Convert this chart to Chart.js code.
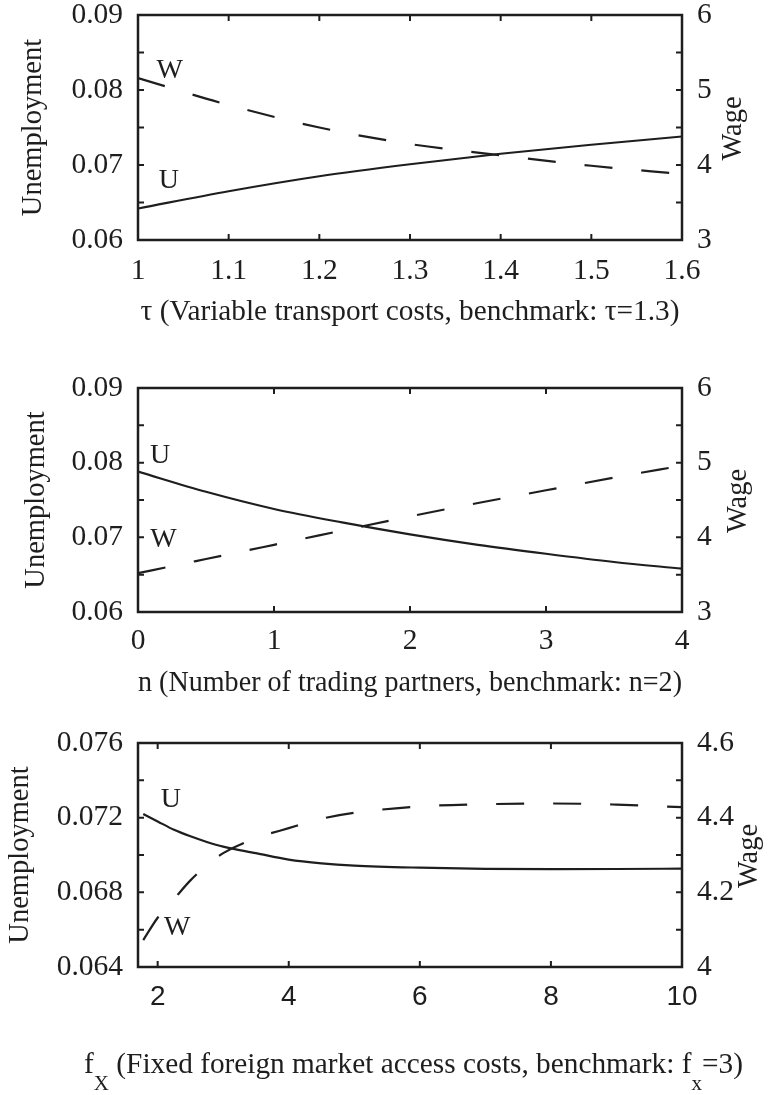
<!DOCTYPE html>
<html><head><meta charset="utf-8">
<script src="https://cdn.jsdelivr.net/npm/chart.js@4.4.1/dist/chart.umd.min.js"></script>
<style>
html,body{margin:0;padding:0;background:#fff;}
#wrap{position:relative;width:783px;height:1095px;}
canvas{position:absolute;left:0;}
</style></head><body>
<div id="wrap">
<canvas id="c1" width="783" height="345" style="top:0px"></canvas>
<canvas id="c2" width="783" height="365" style="top:345px"></canvas>
<canvas id="c3" width="783" height="385" style="top:710px"></canvas>
</div>
<script>
// ---------- data ----------
const tau  = [1.0, 1.1, 1.2, 1.3, 1.4, 1.5, 1.6];
const tauU = [0.0642, 0.0665, 0.0685, 0.0701, 0.0715, 0.0727, 0.0738];
const tauW = [5.16, 4.80, 4.50, 4.28, 4.13, 3.99, 3.88];

const nPartners = [0, 0.5, 1, 1.5, 2, 2.5, 3, 3.5, 4];
const nU = [0.0788, 0.0761, 0.0738, 0.0720, 0.0704, 0.0690, 0.0678, 0.0667, 0.0658];
const nW = [3.52, 3.71, 3.90, 4.09, 4.28, 4.46, 4.63, 4.80, 4.96];

const fx   = [1.78, 2, 2.25, 2.5, 2.75, 3, 3.5, 4, 4.5, 5, 6, 7, 8, 9, 10];
const fxU  = [0.0722, 0.0718, 0.07135, 0.0710, 0.0707, 0.07045, 0.0701, 0.06975, 0.06955, 0.06943, 0.06932, 0.06926, 0.06924, 0.06925, 0.06927];
const fxW  = [4.072, 4.132, 4.182, 4.232, 4.272, 4.305, 4.345, 4.372, 4.397, 4.413, 4.430, 4.436, 4.438, 4.435, 4.428];

// ---------- ticks ----------
const tauTicks = [1, 1.1, 1.2, 1.3, 1.4, 1.5, 1.6];
const tauTickLabels = ['1', '1.1', '1.2', '1.3', '1.4', '1.5', '1.6'];
const nTicks = [0, 1, 2, 3, 4];
const nTickLabels = ['0', '1', '2', '3', '4'];
const fxTicks = [2, 4, 6, 8, 10];
const fxTickLabels = ['2', '4', '6', '8', '10'];

const uTicksA  = [0.06, 0.065, 0.07, 0.075, 0.08, 0.085, 0.09];
const uLabelsA = ['0.06', '', '0.07', '', '0.08', '', '0.09'];
const wTicksA  = [3, 3.5, 4, 4.5, 5, 5.5, 6];
const wLabelsA = ['3', '', '4', '', '5', '', '6'];
const uTicksB  = [0.064, 0.066, 0.068, 0.070, 0.072, 0.074, 0.076];
const uLabelsB = ['0.064', '', '0.068', '', '0.072', '', '0.076'];
const wTicksB  = [4, 4.1, 4.2, 4.3, 4.4, 4.5, 4.6];
const wLabelsB = ['4', '', '4.2', '', '4.4', '', '4.6'];

// ---------- styling ----------
const SERIF = '"Liberation Serif", "Times New Roman", serif';
const SANS = '"Liberation Sans", Arial, sans-serif';
const INK = '#1e1e1e';
Chart.defaults.font.family = SERIF;
Chart.defaults.color = INK;

function toPts(xs, ys) { return xs.map((x, i) => ({x: x, y: ys[i]})); }

const framePlugin = {
  id: 'frame',
  afterDraw(chart) {
    const {ctx, chartArea: a, scales} = chart;
    const L = 6;
    ctx.save();
    ctx.strokeStyle = INK;
    ctx.lineWidth = 2;
    ctx.beginPath();
    scales.x.ticks.forEach(t => {
      const p = scales.x.getPixelForValue(t.value);
      ctx.moveTo(p, a.bottom); ctx.lineTo(p, a.bottom - L);
      ctx.moveTo(p, a.top); ctx.lineTo(p, a.top + L);
    });
    scales.yU.ticks.forEach(t => {
      const p = scales.yU.getPixelForValue(t.value);
      ctx.moveTo(a.left, p); ctx.lineTo(a.left + L, p);
    });
    scales.yW.ticks.forEach(t => {
      const p = scales.yW.getPixelForValue(t.value);
      ctx.moveTo(a.right, p); ctx.lineTo(a.right - L, p);
    });
    ctx.stroke();
    ctx.lineWidth = 2.5;
    ctx.strokeRect(a.left, a.top, a.right - a.left, a.bottom - a.top);
    ctx.restore();
  }
};

const textPlugin = {
  id: 'texts',
  afterDraw(chart, args, opts) {
    const {ctx, chartArea: a, scales} = chart;
    ctx.save();
    ctx.fillStyle = INK;
    ctx.font = '28px ' + SERIF;
    ctx.textAlign = 'center';
    ctx.textBaseline = 'alphabetic';
    (opts.marks || []).forEach(m => {
      ctx.fillText(m.text, scales.x.getPixelForValue(m.x), scales.yU.getPixelForValue(m.y));
    });
    // right axis title, reading bottom-to-top
    ctx.save();
    ctx.font = '28.5px ' + SERIF;
    ctx.translate(opts.wageX, (a.top + a.bottom) / 2 + 1);
    ctx.rotate(-Math.PI / 2);
    ctx.textBaseline = 'middle';
    ctx.fillText(opts.wageText, 0, 0);
    ctx.restore();
    // x title with subscripts
    if (opts.rich) {
      const segs = opts.rich.segments;
      ctx.textAlign = 'left';
      let total = 0;
      segs.forEach(s => {
        ctx.font = (s.sub ? '21px ' : '29.3px ') + SERIF;
        s.w = ctx.measureText(s.text).width;
        total += s.w;
      });
      let x = opts.rich.cx - total / 2;
      segs.forEach(s => {
        ctx.font = (s.sub ? '21px ' : '29.3px ') + SERIF;
        ctx.fillText(s.text, x, opts.rich.y + (s.sub ? 17 : 0));
        x += s.w;
      });
    }
    ctx.restore();
  }
};

function makeChart(id, cfg) {
  const fontTick = {family: SERIF, size: 29.5, lineHeight: 1.2};
  const fontXTitle = {family: SERIF, size: 29.3, lineHeight: 1.2};
  const fontYTitle = {family: SERIF, size: 28.5, lineHeight: 1.2};
  new Chart(document.getElementById(id), {
    type: 'line',
    data: {
      datasets: [
        {data: toPts(cfg.xs, cfg.u), yAxisID: 'yU', borderColor: INK, borderWidth: 2.2,
         pointRadius: 0, fill: false, cubicInterpolationMode: 'monotone'},
        {data: toPts(cfg.xs, cfg.w), yAxisID: 'yW', borderColor: INK, borderWidth: 2.2,
         borderDash: [28, 29], pointRadius: 0, fill: false, cubicInterpolationMode: 'monotone'}
      ]
    },
    options: {
      responsive: false,
      animation: false,
      devicePixelRatio: 1,
      events: [],
      layout: {padding: {top: cfg.padTop, bottom: 0, left: 0, right: 0}},
      plugins: {
        legend: {display: false},
        tooltip: {enabled: false},
        texts: {marks: cfg.marks, wageText: 'Wage', wageX: cfg.wageX, rich: cfg.rich}
      },
      scales: {
        x: {
          type: 'linear', min: cfg.xMin, max: cfg.xMax,
          afterBuildTicks: s => { s.ticks = cfg.xTicks.map(v => ({value: v})); },
          ticks: {callback: (v, i) => cfg.xLabels[i], font: cfg.xFont || fontTick,
                  padding: cfg.xPad, maxRotation: 0, autoSkip: false, color: INK},
          grid: {display: false, drawTicks: false},
          border: {display: false},
          title: cfg.xTitle ? {display: true, text: cfg.xTitle, font: fontXTitle, color: INK,
                               padding: {top: 0, bottom: cfg.xTitlePad}} : {display: false},
          afterFit: s => { s.height = cfg.xHeight; s.paddingLeft = 0; s.paddingRight = 0; }
        },
        yU: {
          type: 'linear', position: 'left', min: cfg.uTicks[0], max: cfg.uTicks[cfg.uTicks.length - 1],
          afterBuildTicks: s => { s.ticks = cfg.uTicks.map(v => ({value: v})); },
          ticks: {callback: (v, i) => cfg.uLabels[i], font: fontTick, padding: 15, autoSkip: false, color: INK},
          grid: {display: false, drawTicks: false},
          border: {display: false},
          title: {display: true, text: 'Unemployment', font: fontYTitle, color: INK,
                  padding: {top: cfg.uTitlePad, bottom: 0}},
          afterFit: s => { s.width = 138; s.paddingTop = 0; s.paddingBottom = 0; }
        },
        yW: {
          type: 'linear', position: 'right', min: cfg.wTicks[0], max: cfg.wTicks[cfg.wTicks.length - 1],
          afterBuildTicks: s => { s.ticks = cfg.wTicks.map(v => ({value: v})); },
          ticks: {callback: (v, i) => cfg.wLabels[i], font: fontTick, padding: 15, autoSkip: false, color: INK},
          grid: {display: false, drawTicks: false},
          border: {display: false},
          afterFit: s => { s.width = 101; s.paddingTop = 0; s.paddingBottom = 0; }
        }
      }
    },
    plugins: [framePlugin, textPlugin]
  });
}

makeChart('c1', {
  xs: tau, u: tauU, w: tauW, xMin: 1, xMax: 1.6,
  xTicks: tauTicks, xLabels: tauTickLabels, xPad: 14, xHeight: 105,
  xTitle: 'τ (Variable transport costs, benchmark: τ=1.3)', xTitlePad: 15.3,
  uTicks: uTicksA, uLabels: uLabelsA, wTicks: wTicksA, wLabels: wLabelsA,
  padTop: 15, uTitlePad: 16.6, wageX: 734,
  marks: [{text: 'W', x: 1.035, y: 0.0816}, {text: 'U', x: 1.034, y: 0.0669}]
});

makeChart('c2', {
  xs: nPartners, u: nU, w: nW, xMin: 0, xMax: 4,
  xTicks: nTicks, xLabels: nTickLabels, xPad: 11.3, xHeight: 98,
  xTitle: 'n (Number of trading partners, benchmark: n=2)', xTitlePad: 9.3,
  uTicks: uTicksA, uLabels: uLabelsA, wTicks: wTicksA, wLabels: wLabelsA,
  padTop: 43, uTitlePad: 19.7, wageX: 739,
  marks: [{text: 'U', x: 0.162, y: 0.0800}, {text: 'W', x: 0.1875, y: 0.0687}]
});

makeChart('c3', {
  xs: fx, u: fxU, w: fxW, xMin: 1.7, xMax: 10,
  xTicks: fxTicks, xLabels: fxTickLabels, xPad: 13, xHeight: 128,
  xFont: {family: SANS, size: 28, lineHeight: 1.2},
  xTitle: null,
  uTicks: uTicksB, uLabels: uLabelsB, wTicks: wTicksB, wLabels: wLabelsB,
  padTop: 33, uTitlePad: 3, wageX: 750,
  marks: [{text: 'U', x: 2.2, y: 0.07257}, {text: 'W', x: 2.3, y: 0.06571}],
  rich: {cx: 413.5, y: 363, segments: [
    {text: 'f'}, {text: 'X', sub: true},
    {text: ' (Fixed foreign market access costs, benchmark: f'}, {text: 'x', sub: true},
    {text: '=3)'}
  ]}
});
</script>
</body></html>
